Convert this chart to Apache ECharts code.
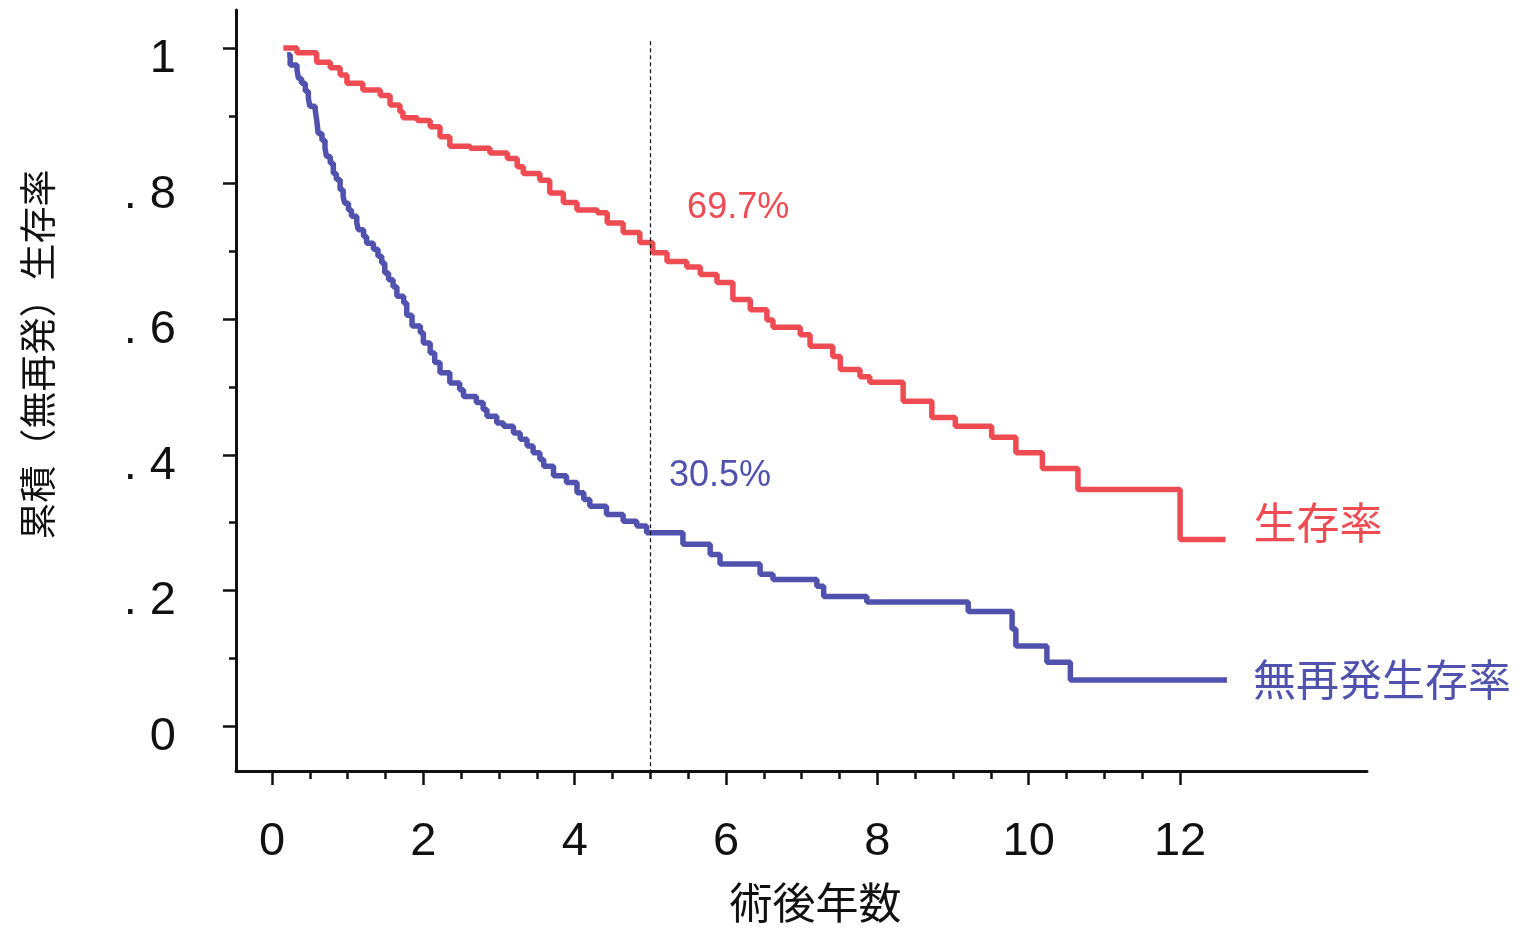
<!DOCTYPE html>
<html>
<head>
<meta charset="utf-8">
<script src="https://cdn.jsdelivr.net/npm/echarts@6/dist/echarts.min.js"></script>
<style>
html,body{margin:0;padding:0;background:#ffffff;}
#chart{width:1525px;height:929px;}
</style>
</head>
<body>
<div id="chart"></div>
<script>
// ---- data ----
const osTime = [0.15,0.33,0.59,0.77,0.90,0.99,1.20,1.43,1.56,1.69,1.73,1.92,2.09,2.22,2.35,2.62,2.88,3.11,3.24,3.32,3.54,3.67,3.85,4.03,4.30,4.43,4.64,4.86,5.03,5.22,5.48,5.66,5.88,6.09,6.32,6.54,6.62,6.98,7.11,7.41,7.51,7.77,7.90,8.34,8.72,9.03,9.51,9.83,10.18,10.65,12.00,12.60];
const osRate = [1.000,0.993,0.979,0.971,0.960,0.948,0.938,0.930,0.916,0.906,0.897,0.893,0.884,0.869,0.855,0.852,0.845,0.837,0.825,0.815,0.805,0.786,0.772,0.761,0.757,0.742,0.728,0.713,0.698,0.685,0.677,0.666,0.654,0.629,0.614,0.599,0.588,0.577,0.560,0.545,0.526,0.515,0.507,0.479,0.455,0.442,0.426,0.403,0.380,0.349,0.275,0.275];

const rfsTime = [0.20,0.24,0.33,0.35,0.39,0.44,0.48,0.50,0.57,0.59,0.61,0.66,0.70,0.72,0.77,0.81,0.85,0.90,0.94,0.96,1.01,1.05,1.12,1.14,1.21,1.25,1.34,1.40,1.45,1.49,1.54,1.60,1.65,1.74,1.78,1.85,1.96,2.00,2.09,2.15,2.22,2.35,2.48,2.53,2.70,2.79,2.84,2.97,3.06,3.19,3.28,3.37,3.45,3.54,3.59,3.72,3.89,4.03,4.12,4.20,4.42,4.64,4.82,4.95,5.43,5.79,5.92,6.45,6.62,7.20,7.29,7.86,9.20,9.78,9.83,10.24,10.55,12.62];
const rfsRate = [0.990,0.975,0.968,0.955,0.948,0.936,0.926,0.914,0.909,0.894,0.874,0.864,0.852,0.840,0.830,0.815,0.806,0.791,0.781,0.771,0.761,0.752,0.742,0.732,0.722,0.712,0.703,0.693,0.683,0.668,0.658,0.648,0.634,0.624,0.606,0.590,0.580,0.565,0.550,0.536,0.521,0.506,0.496,0.486,0.477,0.467,0.457,0.447,0.442,0.432,0.423,0.413,0.403,0.393,0.383,0.369,0.359,0.344,0.334,0.324,0.312,0.302,0.295,0.285,0.268,0.253,0.239,0.224,0.216,0.206,0.191,0.183,0.169,0.143,0.118,0.094,0.068,0.068];

const seriesNames = ['生存率', '無再発生存率'];
const xTickValues = [0, 2, 4, 6, 8, 10, 12];
const xMinorTickValues = [0.5, 1, 1.5, 2.5, 3, 3.5, 4.5, 5, 5.5, 6.5, 7, 7.5, 8.5, 9, 9.5, 10.5, 11, 11.5];
const yTickValues = [0, 0.2, 0.4, 0.6, 0.8, 1];
const yTickLabels = ['0', '. 2', '. 4', '. 6', '. 8', '1'];
const yMinorTickValues = [0.1, 0.3, 0.5, 0.7, 0.9];
const markYear = 5;
const osAt5Label = '69.7%';
const rfsAt5Label = '30.5%';
const xAxisTitle = '術後年数';
const yAxisTitle = '累積（無再発）生存率';

// ---- chart ----
const RED = '#ee4b53';
const BLUE = '#5052ae';
const NUM_FONT = "'Liberation Sans', Arial, sans-serif";
const CJK_FONT = "'Noto Sans CJK JP', 'Noto Sans CJK SC', sans-serif";
const X_MIN = -0.476, X_MAX = 14.47, Y_MIN = -0.0663, Y_MAX = 1.056;

const pairs = (a, b) => a.map((t, i) => [t, b[i]]);

const chart = echarts.init(document.getElementById('chart'), null, {renderer: 'canvas'});
chart.setOption({
  backgroundColor: '#ffffff',
  animation: false,
  grid: {left: 236, right: 158, top: 10, bottom: 157, containLabel: false},
  xAxis: [
    {
      type: 'value', min: X_MIN, max: X_MAX,
      axisLine: {show: true, onZero: false, lineStyle: {color: '#111', width: 3}},
      axisTick: {show: true, customValues: xTickValues, length: 14, lineStyle: {color: '#111', width: 2.5}},
      axisLabel: {show: true, customValues: xTickValues, margin: 48, color: '#111', fontSize: 47, fontFamily: NUM_FONT},
      splitLine: {show: false},
      name: xAxisTitle, nameLocation: 'middle', nameGap: 110,
      nameTextStyle: {fontSize: 43, color: '#111', fontFamily: CJK_FONT, padding: [0, 0, 0, 28]}
    },
    {
      type: 'value', min: X_MIN, max: X_MAX, position: 'bottom',
      axisLine: {show: false, onZero: false},
      axisTick: {show: true, customValues: xMinorTickValues, length: 8, lineStyle: {color: '#111', width: 2.5}},
      axisLabel: {show: false},
      splitLine: {show: false}
    }
  ],
  yAxis: [
    {
      type: 'value', min: Y_MIN, max: Y_MAX,
      axisLine: {show: true, onZero: false, lineStyle: {color: '#111', width: 3}},
      axisTick: {show: true, customValues: yTickValues, length: 13, lineStyle: {color: '#111', width: 2.5}},
      axisLabel: {
        show: true, customValues: yTickValues, margin: 60, color: '#111',
        formatter: v => { const i = yTickValues.findIndex(x => Math.abs(x - v) < 1e-9); return i >= 0 ? '{d|' + yTickLabels[i] + '}' : ''; },
        rich: {d: {fontSize: 47, fontFamily: NUM_FONT, color: '#111', padding: [22, 0, 0, 0]}}
      },
      splitLine: {show: false},
      name: yAxisTitle, nameLocation: 'middle', nameGap: 180, nameRotate: 90,
      nameTextStyle: {fontSize: 37, color: '#111', fontFamily: CJK_FONT, padding: [0, 0, 0, 72]}
    },
    {
      type: 'value', min: Y_MIN, max: Y_MAX, position: 'left',
      axisLine: {show: false, onZero: false},
      axisTick: {show: true, customValues: yMinorTickValues, length: 7, lineStyle: {color: '#111', width: 2.5}},
      axisLabel: {show: false},
      splitLine: {show: false}
    }
  ],
  series: [
    {
      name: seriesNames[0], type: 'line', step: 'end', xAxisIndex: 0, yAxisIndex: 0,
      data: pairs(osTime, osRate), showSymbol: false, symbol: 'none',
      lineStyle: {color: RED, width: 5.5}, itemStyle: {color: RED}, z: 3,
      endLabel: {show: true, formatter: seriesNames[0], color: RED, fontSize: 43, fontFamily: CJK_FONT, distance: 28, offset: [0, -17]},
      markPoint: {
        symbol: 'circle', symbolSize: 0, silent: true,
        data: [{coord: [6.16, 0.764], label: {show: true, position: 'inside', formatter: osAt5Label, color: RED, fontSize: 36, fontFamily: NUM_FONT}}]
      },
      markLine: {
        silent: true, symbol: 'none', animation: false,
        lineStyle: {color: '#111', type: [4, 3], width: 1.2},
        label: {show: false},
        data: [[{coord: [markYear, 1.01]}, {coord: [markYear, Y_MIN]}]]
      }
    },
    {
      name: seriesNames[1], type: 'line', step: 'end', xAxisIndex: 0, yAxisIndex: 0,
      data: pairs(rfsTime, rfsRate), showSymbol: false, symbol: 'none',
      lineStyle: {color: BLUE, width: 5.5}, itemStyle: {color: BLUE}, z: 3,
      endLabel: {show: true, formatter: seriesNames[1], color: BLUE, fontSize: 43, fontFamily: CJK_FONT, distance: 26, offset: [0, 0]},
      markPoint: {
        symbol: 'circle', symbolSize: 0, silent: true,
        data: [{coord: [5.92, 0.368], label: {show: true, position: 'inside', formatter: rfsAt5Label, color: BLUE, fontSize: 36, fontFamily: NUM_FONT}}]
      }
    }
  ]
});
</script>
</body>
</html>
